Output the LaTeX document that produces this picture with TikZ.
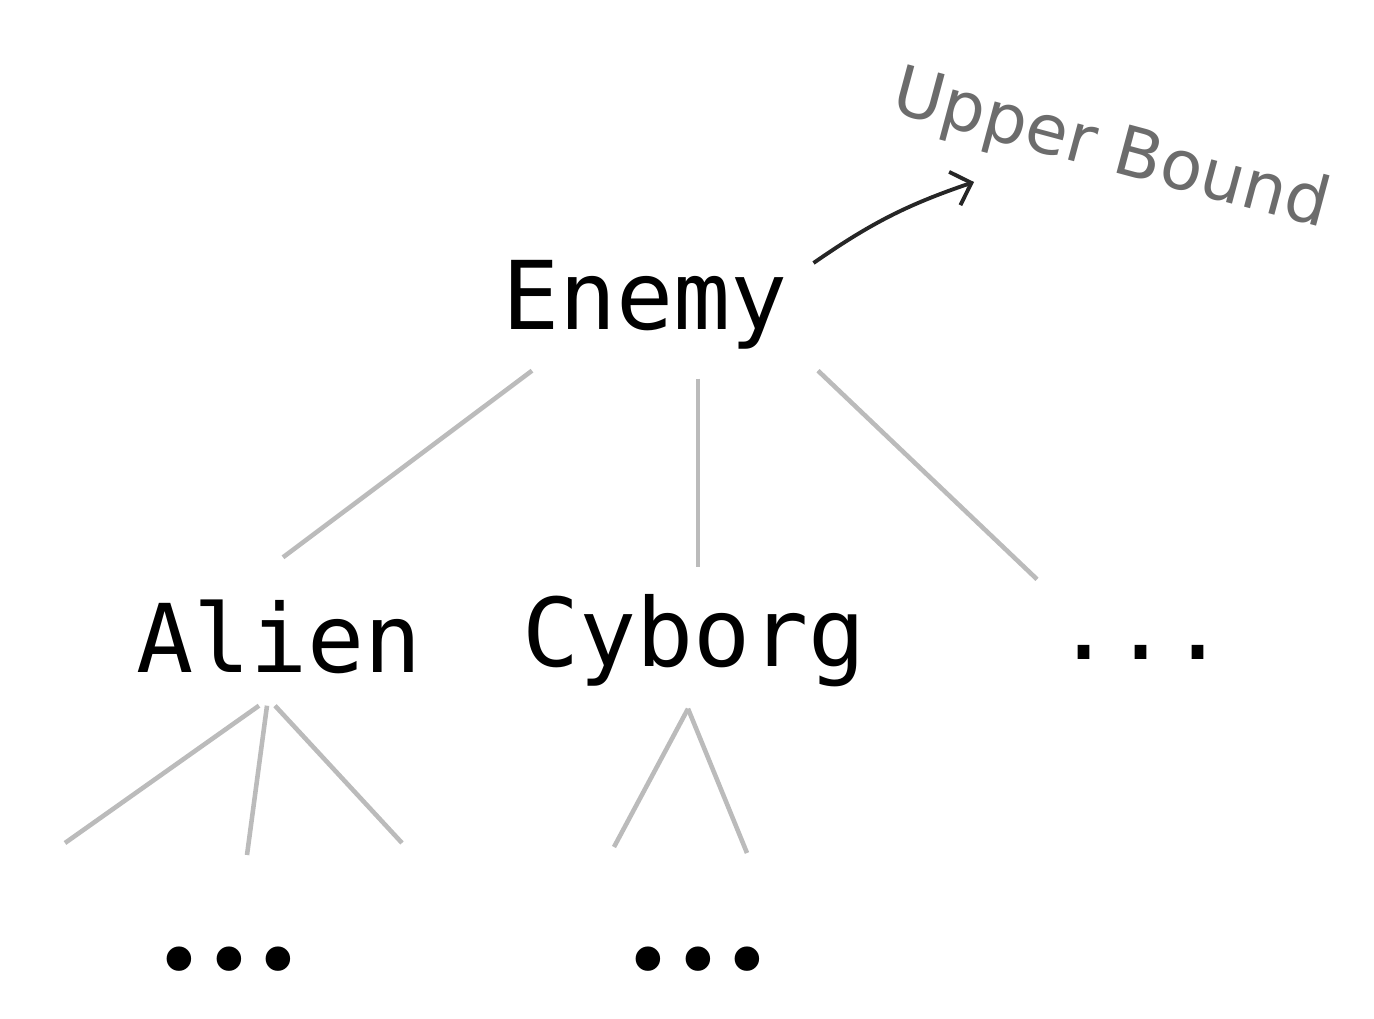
\documentclass[tikz,border=0pt]{standalone}
\usepackage{fontspec}
\setmainfont{DejaVu Sans}
\newfontfamily\monofont{DejaVu Sans Mono}
\usetikzlibrary{arrows.meta}
\usepackage{xcolor}
\definecolor{branchgray}{RGB}{187,187,187}
\definecolor{boundgray}{RGB}{108,108,108}

\begin{document}
\begin{tikzpicture}[
    word/.style={font=\monofont\fontsize{27}{32}\selectfont, inner sep=0pt, text height=0.72cm, text depth=0.22cm, anchor=base},
    more/.style={font=\fontsize{24}{28}\selectfont, inner sep=0pt},
    branch/.style={draw=branchgray, line width=1.3pt}]
    \useasboundingbox (0,0) rectangle (13.74,10.19);
    \node [word] (enemy) at (6.45,6.89) {Enemy};
    \node [word] (alien) at (2.79,3.46) {Alien};
    \node [word] (cyborg) at (6.94,3.52) {Cyborg};
    \node [word] (others) at (11.41,3.59) {...};
    \node [more] (alienmore) at (2.29,0.50) {•••};
    \node [more] (cyborgmore) at (6.98,0.50) {•••};
    \node [font=\fontsize{19.5}{24}\selectfont, text=boundgray, inner sep=0pt, anchor=base, rotate=-15] (bound) at (11.06,8.49) {Upper Bound};

    % first level
    \draw[branch] ([shift={(-1.13,-0.18)}]enemy.south) -- ([shift={(0.04,0.43)}]alien.north);
    \draw[branch] ([shift={(0.53,-0.26)}]enemy.south) -- ([shift={(0.04,0.27)}]cyborg.north);
    \draw[branch] ([shift={(1.73,-0.18)}]enemy.south) -- ([shift={(-1.04,0.08)}]others.north);
    % second level
    \draw[branch] ([shift={(-0.20,-0.10)}]alien.south) -- ([shift={(-1.64,1.26)}]alienmore.center);
    \draw[branch] ([shift={(-0.12,-0.10)}]alien.south) -- ([shift={(0.18,1.14)}]alienmore.center);
    \draw[branch] ([shift={(-0.04,-0.10)}]alien.south) -- ([shift={(1.73,1.26)}]alienmore.center);
    \draw[branch] ([shift={(-0.06,-0.19)}]cyborg.south) -- ([shift={(-0.84,1.22)}]cyborgmore.center);
    \draw[branch] ([shift={(-0.06,-0.19)}]cyborg.south) -- ([shift={(0.49,1.16)}]cyborgmore.center);

    \draw[-{Straight Barb[length=5pt,width=10pt]}, line width=1.1pt, black!85] ([shift={(0.25,0.42)}]enemy.east) to[bend left=8] ([shift={(-1.32,-0.12)}]bound.base);
\end{tikzpicture}
\end{document}
